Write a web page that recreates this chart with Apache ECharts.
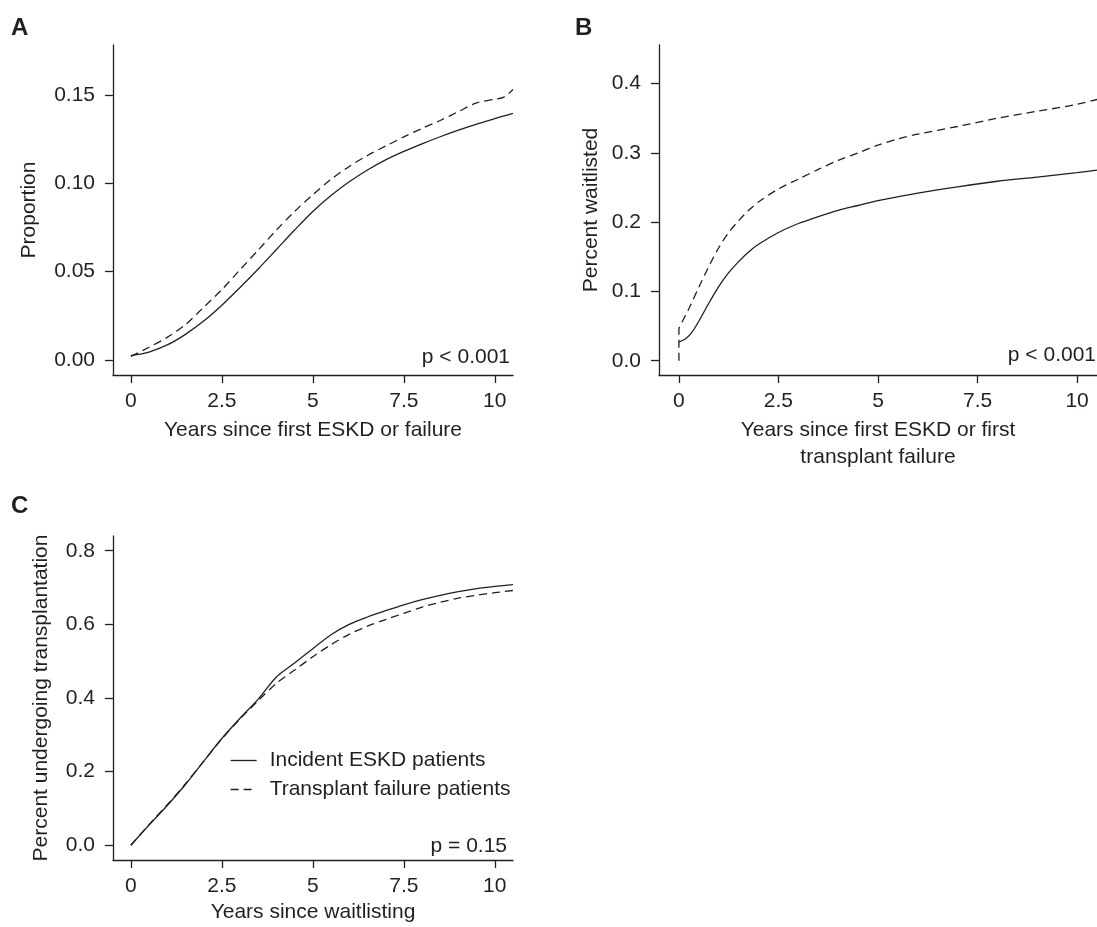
<!DOCTYPE html>
<html>
<head>
<meta charset="utf-8">
<script src="https://cdn.jsdelivr.net/npm/echarts@6/dist/echarts.min.js"></script>
<style>
    html, body { margin: 0; padding: 0; background: #fff; }
    #main { width: 1097px; height: 927px; }
</style>
</head>
<body>
<div id="main"></div>
<script>
    // A: proportion by years since first ESKD or failure
    var yearsA = [0, 0.5, 1, 1.5, 2, 2.5, 3, 3.5, 4, 4.5, 5, 5.5, 6, 6.5, 7, 7.5, 8, 8.5, 9, 9.5, 10, 10.5];
    var incidentA = [0.0025, 0.0045, 0.0085, 0.0145, 0.022, 0.031, 0.041, 0.0515, 0.0625, 0.0735, 0.084, 0.093, 0.1008, 0.1075, 0.1132, 0.118, 0.1223, 0.1263, 0.13, 0.1334, 0.1366, 0.1395];
    var yearsAFail = [0, 0.5, 1, 1.5, 2, 2.5, 3, 3.5, 4, 4.5, 5, 5.5, 6, 6.5, 7, 7.5, 8, 8.5, 9, 9.5, 10, 10.25, 10.5];
    var failureA = [0.002, 0.0072, 0.0128, 0.020, 0.0298, 0.0398, 0.051, 0.0622, 0.0735, 0.084, 0.0935, 0.1022, 0.1095, 0.1157, 0.121, 0.1262, 0.131, 0.1355, 0.1405, 0.1455, 0.1475, 0.1487, 0.153];

    // B: percent waitlisted
    var yearsB = [0, 0.15, 0.3, 0.5, 0.75, 1, 1.25, 1.5, 1.75, 2, 2.5, 3, 3.5, 4, 4.5, 5, 6, 7, 8, 9, 10, 10.5];
    var incidentB = [0.027, 0.031, 0.039, 0.057, 0.083, 0.107, 0.127, 0.143, 0.157, 0.168, 0.185, 0.198, 0.208, 0.217, 0.224, 0.231, 0.242, 0.251, 0.259, 0.265, 0.2715, 0.275];
    var yearsBFail = [0, 0, 0.1, 0.25, 0.5, 0.75, 1, 1.25, 1.5, 1.75, 2, 2.5, 3, 3.5, 4, 4.5, 5, 5.5, 6, 7, 8, 9, 10, 10.5];
    var failureB = [0, 0.045, 0.058, 0.075, 0.106, 0.136, 0.163, 0.185, 0.202, 0.217, 0.229, 0.248, 0.262, 0.276, 0.289, 0.3, 0.311, 0.32, 0.327, 0.338, 0.35, 0.36, 0.37, 0.377];

    // C: percent undergoing transplantation since waitlisting
    var yearsC = [0, 0.5, 1, 1.5, 2, 2.5, 3, 3.5, 4, 4.5, 5, 5.5, 6, 6.5, 7, 7.5, 8, 8.5, 9, 9.5, 10, 10.5];
    var incidentC = [0, 0.055, 0.108, 0.165, 0.228, 0.29, 0.345, 0.397, 0.457, 0.495, 0.534, 0.572, 0.6, 0.62, 0.637, 0.653, 0.667, 0.679, 0.689, 0.697, 0.703, 0.708];
    var failureC = [0, 0.056, 0.11, 0.167, 0.228, 0.289, 0.343, 0.393, 0.44, 0.476, 0.512, 0.545, 0.573, 0.595, 0.613, 0.63, 0.647, 0.66, 0.671, 0.679, 0.686, 0.692];

    var xTicks = [0, 2.5, 5, 7.5, 10];
    var yTicksA = [0, 0.05, 0.10, 0.15];
    var yTicksB = [0, 0.1, 0.2, 0.3, 0.4];
    var yTicksC = [0, 0.2, 0.4, 0.6, 0.8];

    var seriesNames = ['Incident ESKD patients', 'Transplant failure patients'];

    var font = '"Liberation Sans", Arial, Helvetica, sans-serif';
    var ink = '#231f20';

    function pairs(xs, ys) {
        return xs.map(function (x, i) { return [x, ys[i]]; });
    }

    function xAxisFor(grid, min, max, name, gap) {
        return {
            type: 'value', gridIndex: grid, min: min, max: max,
            name: name, nameLocation: 'middle', nameGap: gap,
            nameTextStyle: { fontFamily: font, fontSize: 21, color: ink, lineHeight: 27 },
            axisLine: { onZero: false, lineStyle: { color: ink, width: 1.3 } },
            axisTick: { length: 8, customValues: xTicks, lineStyle: { color: ink, width: 1.3 } },
            axisLabel: { customValues: xTicks, margin: 14, fontFamily: font, fontSize: 21, color: ink, lineHeight: 24 },
            splitLine: { show: false }
        };
    }

    function yAxisFor(grid, min, max, ticks, digits, name, gap) {
        return {
            type: 'value', gridIndex: grid, min: min, max: max,
            name: name, nameLocation: 'middle', nameGap: gap,
            nameTextStyle: { fontFamily: font, fontSize: 21, color: ink },
            axisLine: { onZero: false, lineStyle: { color: ink, width: 1.3 } },
            axisTick: { length: 8, customValues: ticks, lineStyle: { color: ink, width: 1.3 } },
            axisLabel: {
                customValues: ticks, margin: 18, fontFamily: font, fontSize: 21, color: ink,
                formatter: function (v) { return v.toFixed(digits); }
            },
            splitLine: { show: false }
        };
    }

    function curve(name, idx, data, dashed) {
        return {
            name: name, type: 'line', xAxisIndex: idx, yAxisIndex: idx,
            data: data, symbol: 'none', smooth: 0.3, silent: true,
            lineStyle: { color: ink, width: 1.3, type: dashed ? [8, 5] : 'solid' },
            itemStyle: { color: ink }
        };
    }

    var myChart = echarts.init(document.getElementById('main'));

    var option = {
        animation: false,
        backgroundColor: '#fff',
        grid: [
            { left: 113, top: 45, width: 400, height: 330 },
            { left: 659, top: 45, width: 438, height: 330 },
            { left: 113, top: 536, width: 400, height: 330 }
        ],
        xAxis: [
            xAxisFor(0, -0.49, 10.5, 'Years since first ESKD or failure', 42),
            xAxisFor(1, -0.5, 10.5, 'Years since first ESKD or first\ntransplant failure', 42),
            xAxisFor(2, -0.49, 10.5, 'Years since waitlisting', 39)
        ],
        yAxis: [
            yAxisFor(0, -0.0085, 0.1782, yTicksA, 2, 'Proportion', 73),
            yAxisFor(1, -0.0206, 0.4556, yTicksB, 1, 'Percent waitlisted', 57),
            yAxisFor(2, -0.04, 0.84, yTicksC, 1, 'Percent undergoing transplantation', 61)
        ],
        legend: {
            data: seriesNames,
            orient: 'vertical',
            left: 225, top: 745,
            itemWidth: 26, itemHeight: 14, itemGap: 8,
            selectedMode: false,
            itemStyle: { opacity: 0 },
            lineStyle: { color: ink, width: 1.3 },
            textStyle: { fontFamily: font, fontSize: 21, color: ink, lineHeight: 21, padding: [0, 0, 0, 8] }
        },
        graphic: [
            { type: 'text', left: 11, top: 16, style: { text: 'A', font: 'bold 24px ' + font, fill: ink } },
            { type: 'text', left: 575, top: 16, style: { text: 'B', font: 'bold 24px ' + font, fill: ink } },
            { type: 'text', left: 11, top: 494, style: { text: 'C', font: 'bold 24px ' + font, fill: ink } },
            { type: 'text', x: 510, y: 357, style: { text: 'p < 0.001', font: '21px ' + font, fill: ink, align: 'right', verticalAlign: 'middle' } },
            { type: 'text', x: 1096, y: 355, style: { text: 'p < 0.001', font: '21px ' + font, fill: ink, align: 'right', verticalAlign: 'middle' } },
            { type: 'text', x: 507, y: 846, style: { text: 'p = 0.15', font: '21px ' + font, fill: ink, align: 'right', verticalAlign: 'middle' } }
        ],
        series: [
            curve(seriesNames[0], 0, pairs(yearsA, incidentA), false),
            curve(seriesNames[1], 0, pairs(yearsAFail, failureA), true),
            curve(seriesNames[0], 1, pairs(yearsB, incidentB), false),
            curve(seriesNames[1], 1, pairs(yearsBFail, failureB), true),
            curve(seriesNames[0], 2, pairs(yearsC, incidentC), false),
            curve(seriesNames[1], 2, pairs(yearsC, failureC), true)
        ]
    };

    myChart.setOption(option);
</script>
</body>
</html>
